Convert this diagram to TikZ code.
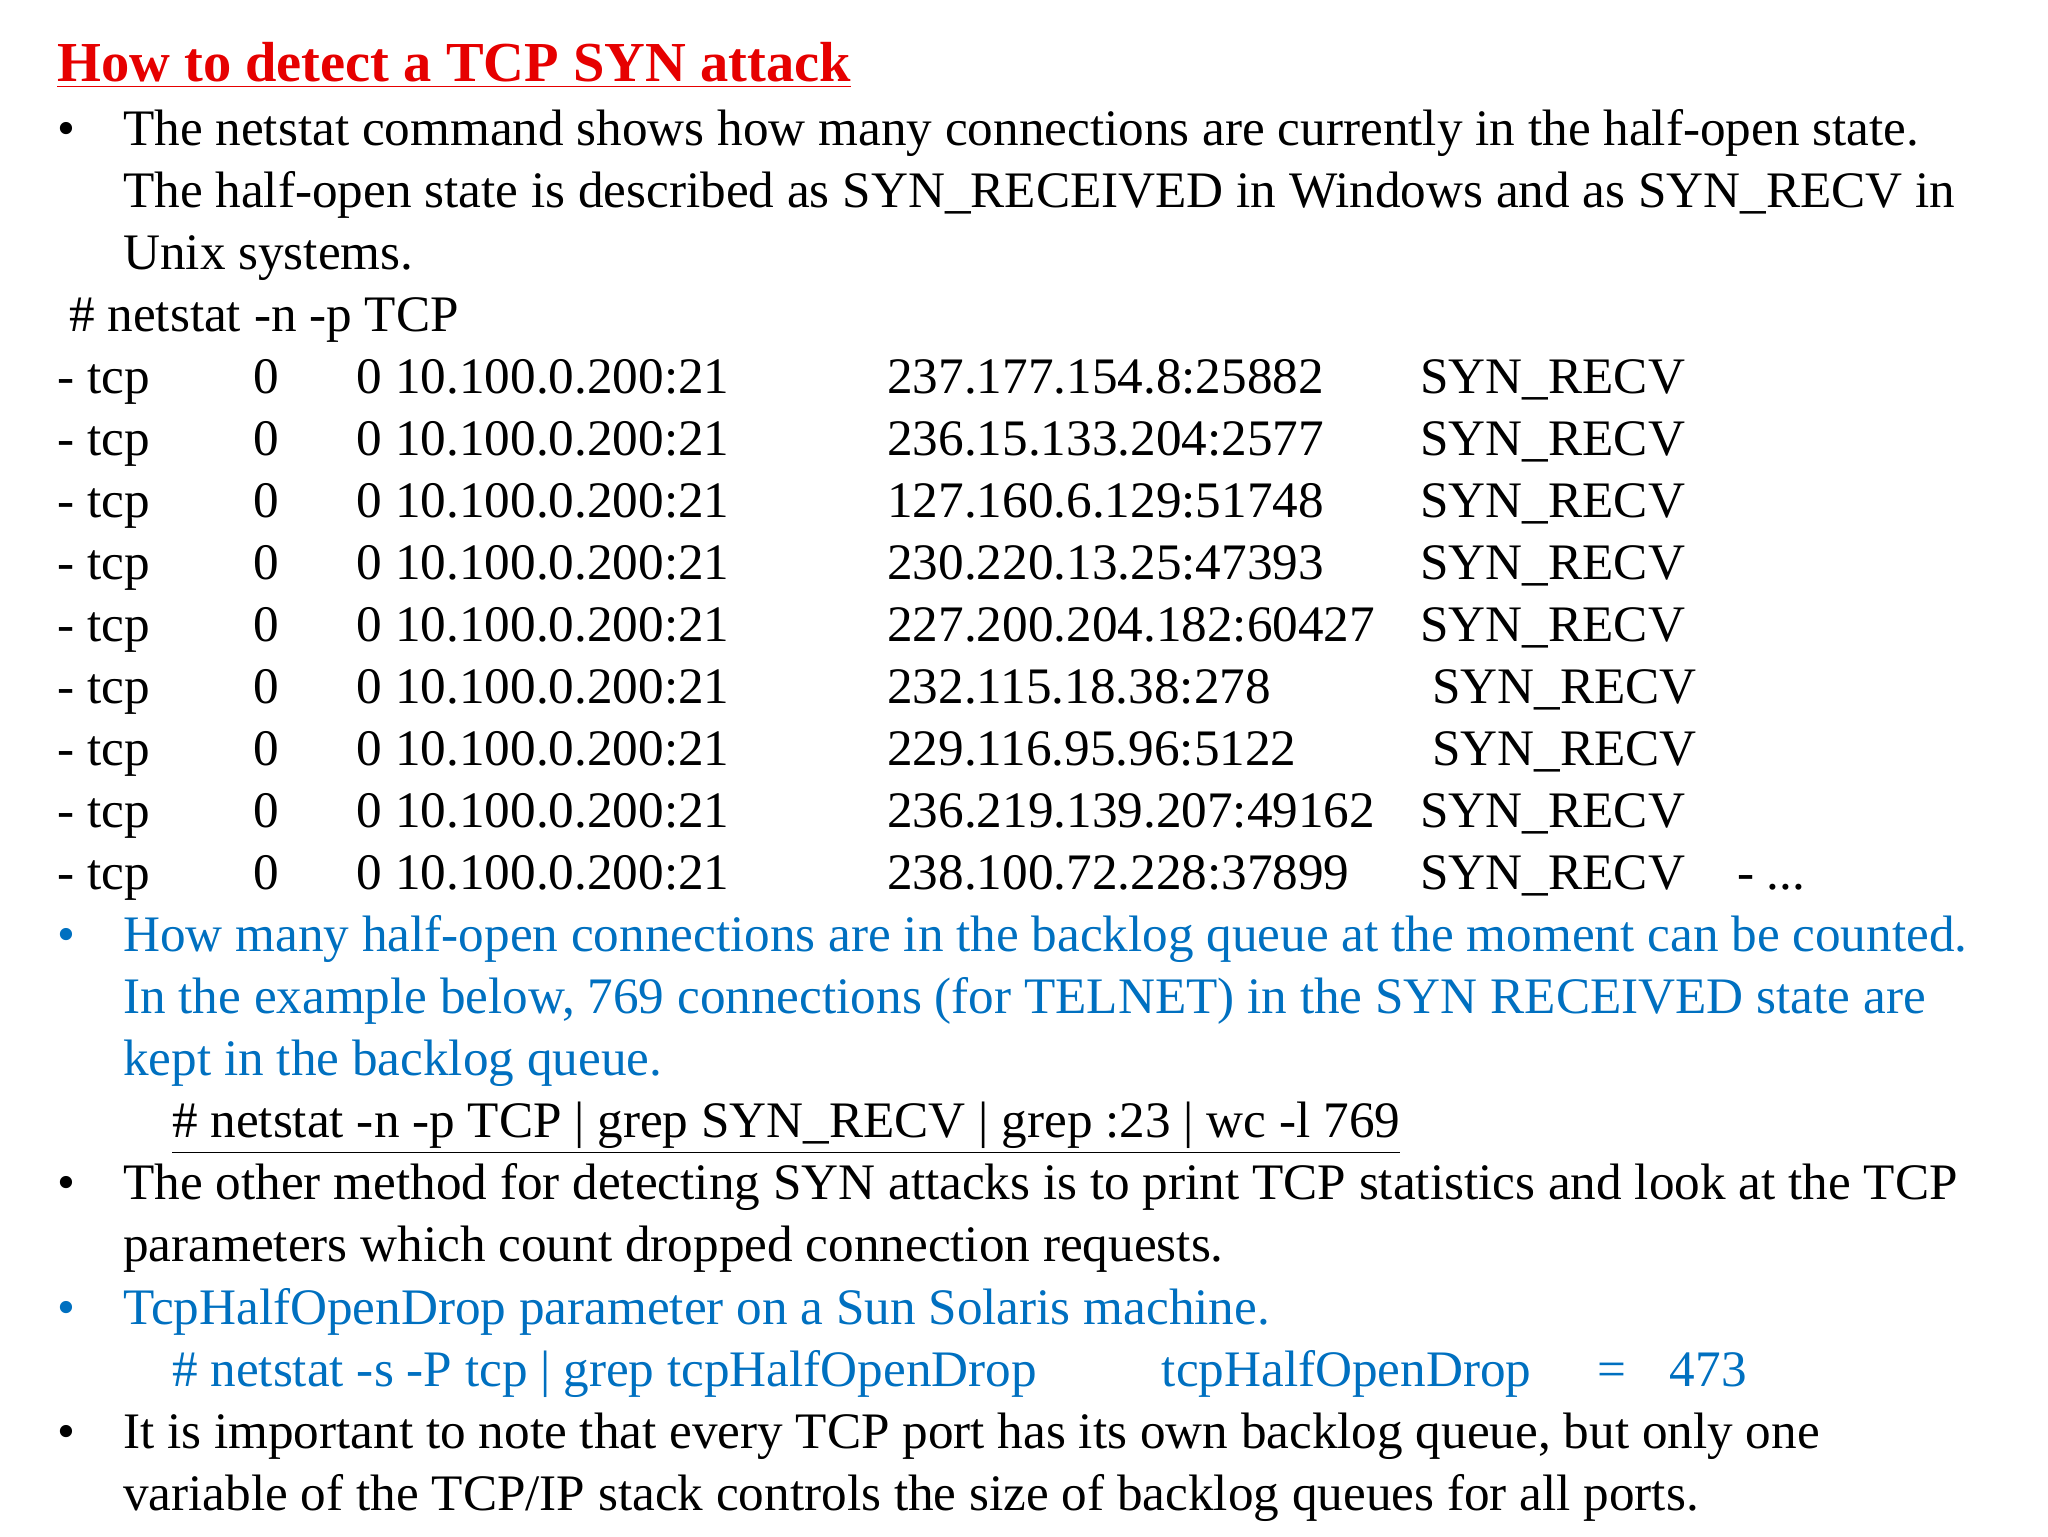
\documentclass[tikz,border=0pt]{standalone}
\usepackage{fontspec}
\setmainfont{Liberation Serif}
\begin{document}
\begin{tikzpicture}[x=0.5pt,y=-0.5pt,
  t/.style={anchor=base west,inner sep=0pt,font=\fontsize{19.4}{21}\selectfont},
  b/.style={t,text={rgb,255:red,0;green,112;blue,192}}]
\useasboundingbox (0,0) rectangle (1552,1164);
\definecolor{ttl}{RGB}{230,0,0}
\node[t,text=ttl,font=\fontsize{21.4}{23}\selectfont\bfseries] (title) at (43,62) {\underline{How to detect a TCP SYN attack}};
\node[t] (b1) at (43,110) {•};
\node[t] (l1) at (93,110) {The netstat command shows how many connections are currently in the half-open state.};
\node[t] (l2) at (93,157) {The half-open state is described as SYN\_RECEIVED in Windows and as SYN\_RECV in};
\node[t] (l3) at (93,204) {Unix systems.};
\node[t] (cmd1) at (52,251) {\# netstat -n -p TCP};
\foreach \a/\s/\i in {237.177.154.8:25882/1076/1,236.15.133.204:2577/1076/2,127.160.6.129:51748/1076/3,230.220.13.25:47393/1076/4,227.200.204.182:60427/1076/5,232.115.18.38:278/1085/6,229.116.95.96:5122/1085/7,236.219.139.207:49162/1076/8,238.100.72.228:37899/1076/9}{
  \pgfmathsetmacro\yy{298+47*(\i-1)}
  \node[t] (r\i a) at (43,\yy) {- tcp};
  \node[t] (r\i b) at (192,\yy) {0};
  \node[t] (r\i c) at (270,\yy) {0 10.100.0.200:21};
  \node[t] (r\i d) at (672,\yy) {\a};
  \node[t] (r\i e) at (\s,\yy) {SYN\_RECV};
}
\node[t] (more) at (1316,674) {- ...};
\node[b] (b2) at (43,721) {•};
\node[b] (m1) at (93,721) {How many half-open connections are in the backlog queue at the moment can be counted.};
\node[b] (m2) at (93,768) {In the example below, 769 connections (for TELNET) in the SYN RECEIVED state are};
\node[b] (m3) at (93,815) {kept in the backlog queue.};
\node[t] (cmd2) at (130,862) {\underline{\# netstat -n -p TCP | grep SYN\_RECV | grep :23 | wc -l 769}};
\node[t] (b3) at (43,909) {•};
\node[t] (n1) at (93,909) {The other method for detecting SYN attacks is to print TCP statistics and look at the TCP};
\node[t] (n2) at (93,956) {parameters which count dropped connection requests.};
\node[b] (b4) at (43,1004) {•};
\node[b] (p1) at (93,1004) {TcpHalfOpenDrop parameter on a Sun Solaris machine.};
\node[b] (p2) at (130,1051) {\# netstat -s -P tcp | grep tcpHalfOpenDrop};
\node[b] (p3) at (880,1051) {tcpHalfOpenDrop};
\node[b] (p4) at (1210,1051) {=};
\node[b] (p5) at (1265,1051) {473};
\node[t] (b5) at (43,1098) {•};
\node[t] (q1) at (93,1098) {It is important to note that every TCP port has its own backlog queue, but only one};
\node[t] (q2) at (93,1145) {variable of the TCP/IP stack controls the size of backlog queues for all ports.};
\end{tikzpicture}
\end{document}
